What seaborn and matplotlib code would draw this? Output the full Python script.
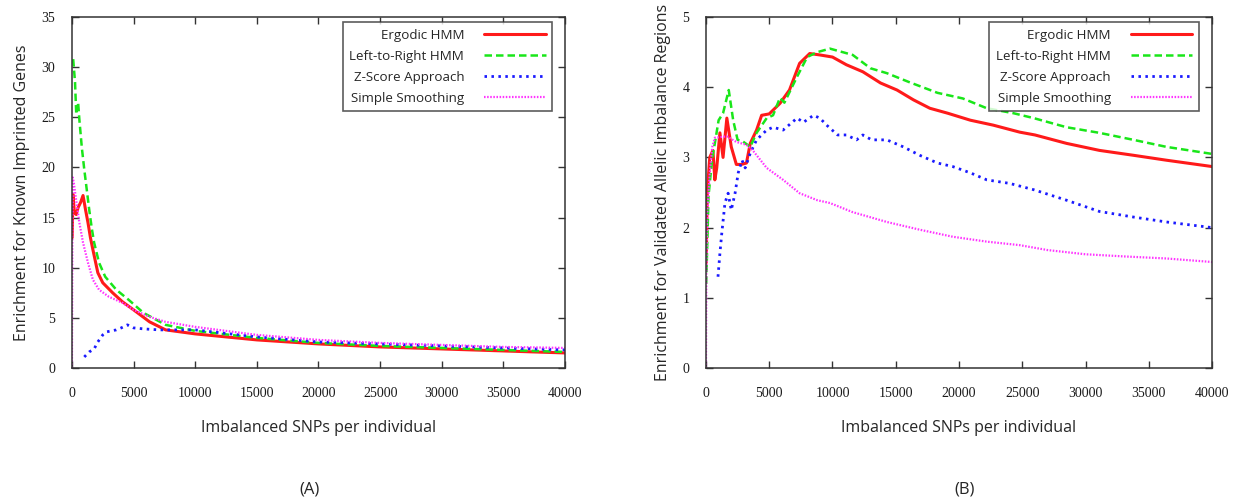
import matplotlib
matplotlib.use("Agg")
import matplotlib.pyplot as plt
import seaborn as sns
import pandas as pd

# ---- Panel A: enrichment for known imprinted genes ----
a_ergodic_x = [20, 80, 200, 350, 500, 700, 900, 1100, 1300, 1500, 1700, 2100, 2500, 3300, 4100,
               5000, 6300, 7600, 10000, 15000, 20000, 25000, 30000, 35000, 40000]
a_ergodic_y = [13.0, 17.3, 15.5, 15.3, 16.0, 16.5, 17.2, 15.8, 14.5, 13.0, 11.8, 9.5, 8.5, 7.5, 6.6,
               5.8, 4.6, 3.8, 3.4, 2.8, 2.4, 2.1, 1.9, 1.7, 1.5]

a_l2r_x = [100, 250, 350, 500, 600, 800, 1000, 1200, 1400, 1600, 1800, 2200, 2700, 3600, 4600,
           5800, 7600, 10000, 15000, 20000, 25000, 30000, 35000, 40000]
a_l2r_y = [30.8, 28.5, 25.3, 26.5, 24.8, 22.0, 19.8, 17.8, 15.8, 14.0, 12.5, 10.5, 9.1, 7.8, 6.8,
           5.5, 4.3, 3.7, 3.0, 2.5, 2.2, 2.0, 1.8, 1.6]

a_zscore_x = [1000, 1400, 1800, 2100, 2500, 2800, 3600, 4000, 4500, 5000, 5800, 7100, 8500,
              10000, 15000, 20000, 25000, 30000, 35000, 40000]
a_zscore_y = [1.1, 1.6, 1.9, 2.6, 3.3, 3.6, 3.8, 4.0, 4.3, 4.0, 3.9, 3.8, 3.8,
              3.8, 3.1, 2.6, 2.4, 2.2, 2.0, 1.8]

a_smooth_x = [0, 30, 60, 150, 300, 600, 900, 1300, 1700, 2200, 3000, 4100, 5000, 6300, 7600,
              10000, 15000, 20000, 25000, 30000, 35000, 40000]
a_smooth_y = [0.0, 12.0, 19.0, 18.5, 17.1, 14.5, 12.5, 10.5, 8.8, 7.8, 7.1, 6.5, 5.8, 5.1, 4.6,
              4.1, 3.3, 2.8, 2.5, 2.3, 2.1, 2.0]

# ---- Panel B: enrichment for validated allelic imbalance regions ----
b_ergodic_x = [20, 100, 300, 550, 700, 850, 1100, 1350, 1650, 2000, 2400, 2800, 3200, 3500, 4000,
               4400, 5000, 5850, 6600, 7400, 8200, 9000, 10000, 11100, 12400, 13800, 15100, 16400,
               17700, 19100, 20900, 22700, 24800, 26000, 28500, 31100, 33800, 36400, 40000]
b_ergodic_y = [1.5, 2.5, 3.0, 3.1, 2.68, 2.85, 3.35, 3.0, 3.56, 3.15, 2.9, 2.9, 2.92, 3.2, 3.39,
               3.6, 3.62, 3.77, 3.96, 4.34, 4.48, 4.46, 4.43, 4.32, 4.22, 4.06, 3.96, 3.82,
               3.7, 3.63, 3.53, 3.46, 3.36, 3.32, 3.2, 3.1, 3.03, 2.96, 2.87]

b_l2r_x = [20, 200, 500, 700, 1000, 1350, 1800, 2150, 2500, 2900, 3500, 4000, 4800, 5300, 5850,
           6200, 7200, 8000, 8800, 9800, 11600, 13000, 14300, 16100, 18300, 20300, 22200, 24300,
           25900, 28500, 31100, 33800, 36400, 40000]
b_l2r_y = [1.2, 2.45, 3.0, 3.2, 3.53, 3.63, 3.96, 3.53, 3.25, 3.23, 3.15, 3.35, 3.56, 3.6, 3.85,
           3.78, 4.15, 4.43, 4.5, 4.55, 4.46, 4.27, 4.2, 4.07, 3.92, 3.84, 3.7, 3.63,
           3.56, 3.43, 3.35, 3.25, 3.15, 3.05]

b_zscore_x = [950, 1100, 1250, 1500, 1750, 2000, 2300, 2550, 2850, 3100, 3500, 4000, 4800, 5300,
              6100, 7200, 7700, 8500, 9000, 9600, 10400, 11100, 11900, 12400, 13100, 14300, 15600,
              16900, 18300, 19500, 20900, 22200, 24000, 25900, 28500, 31100, 33800, 36400, 40000]
b_zscore_y = [1.3, 1.63, 1.92, 2.35, 2.49, 2.25, 2.49, 2.78, 2.96, 2.85, 3.06, 3.25, 3.39, 3.43,
              3.39, 3.56, 3.5, 3.6, 3.56, 3.45, 3.32, 3.32, 3.25, 3.32, 3.25, 3.25, 3.15,
              3.03, 2.92, 2.87, 2.78, 2.68, 2.63, 2.54, 2.39, 2.23, 2.15, 2.08, 2.0]

b_smooth_x = [0, 30, 100, 300, 500, 700, 1650, 2400, 3200, 3700, 4800, 6100, 7400, 8800, 9800,
              11600, 14300, 16900, 19500, 22200, 24800, 27000, 30000, 33000, 36400, 40000]
b_smooth_y = [0.0, 1.35, 2.2, 2.78, 3.15, 3.28, 3.3, 3.22, 3.18, 3.1, 2.85, 2.68, 2.49, 2.39, 2.35,
              2.22, 2.08, 1.97, 1.87, 1.8, 1.75, 1.68, 1.62, 1.59, 1.56, 1.51]

method_names = ["Ergodic HMM", "Left-to-Right HMM", "Z-Score Approach", "Simple Smoothing"]
x_ticks = [0, 5000, 10000, 15000, 20000, 25000, 30000, 35000, 40000]
x_label = "Imbalanced SNPs per individual"

sns.set_theme(style="ticks")
plt.rcParams["font.family"] = ["Open Sans", "DejaVu Sans"]
plt.rcParams["font.serif"] = ["Liberation Serif", "Times New Roman", "DejaVu Serif"]

styles = [
    dict(color="#ff1a1a", linewidth=2.2, linestyle="-"),
    dict(color="#19e619", linewidth=1.8, linestyle=(0, (3.0, 1.6))),
    dict(color="#1a1aff", linewidth=2.0, linestyle=(0, (0.9, 1.6))),
    dict(color="#ff33ff", linewidth=1.6, linestyle=(0, (0.7, 0.7))),
]

fig = plt.figure(figsize=(12.34, 5.01), dpi=100)
ax_a = fig.add_axes([0.0583, 0.2655, 0.3996, 0.7005])
ax_b = fig.add_axes([0.5721, 0.2655, 0.4101, 0.7005])


def draw_panel(ax, series, ymax, ylabel, ystep):
    for name, (xs, ys), st in zip(method_names, series, styles):
        df = pd.DataFrame({"snps": xs, "enrichment": ys})
        sns.lineplot(data=df, x="snps", y="enrichment", ax=ax, label=name,
                     sort=False, estimator=None, **st)
    ax.set_xlim(0, 40000)
    ax.set_ylim(0, ymax)
    y_ticks = list(range(0, ymax + 1, ystep))
    ax.set_xticks(x_ticks)
    ax.set_yticks(y_ticks)
    ax.tick_params(direction="in", length=5, width=1, color="#333333",
                   top=True, right=True, labelsize=10, labelcolor="#1a1a1a")
    ax.tick_params(axis="x", pad=14)
    ax.tick_params(axis="y", pad=12)
    # serif digits on both axes
    ax.set_xticklabels([str(t) for t in x_ticks], family="serif", fontsize=10)
    ax.set_yticklabels([str(t) for t in y_ticks], family="serif", fontsize=10)
    for sp in ax.spines.values():
        sp.set_visible(True)
        sp.set_color("#333333")
        sp.set_linewidth(1.1)
    ax.set_xlabel(x_label, fontsize=11.5, labelpad=14)
    ax.set_ylabel(ylabel, fontsize=11.5, labelpad=8)
    leg = ax.legend(loc="upper right", bbox_to_anchor=(0.974, 0.986), markerfirst=False,
                    fontsize=9.6, handlelength=4.6, labelspacing=0.6, frameon=True,
                    fancybox=False, borderpad=0.5, handletextpad=1.5, borderaxespad=0)
    leg.get_frame().set_edgecolor("#333333")
    leg.get_frame().set_linewidth(1.2)


draw_panel(ax_a,
           [(a_ergodic_x, a_ergodic_y), (a_l2r_x, a_l2r_y),
            (a_zscore_x, a_zscore_y), (a_smooth_x, a_smooth_y)],
           35, "Enrichment for Known Imprinted Genes", 5)
draw_panel(ax_b,
           [(b_ergodic_x, b_ergodic_y), (b_l2r_x, b_l2r_y),
            (b_zscore_x, b_zscore_y), (b_smooth_x, b_smooth_y)],
           5, "Enrichment for Validated Allelic Imbalance Regions", 1)

fig.text(309 / 1234, 1 - 490 / 501, "(A)", ha="center", va="center", fontsize=12)
fig.text(965 / 1234, 1 - 490 / 501, "(B)", ha="center", va="center", fontsize=12)

fig.savefig("out.png", dpi=100)
